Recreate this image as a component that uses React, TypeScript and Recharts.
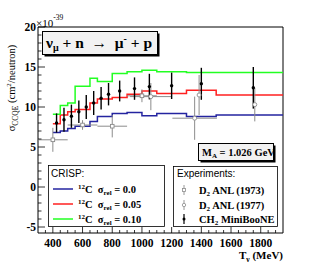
import React from 'react';
import { ComposedChart, Line, Scatter, XAxis, YAxis, ErrorBar, ReferenceArea } from 'recharts';

// CRISP step curves (bin lower edges, last entry = right end)
const binEdges = [400, 450, 500, 550, 650, 700, 800, 900, 1000, 1100, 1300, 1500, 1950];
const crispSigma00 = [6.8, 7.0, 7.3, 7.6, 8.2, 8.8, 9.2, 9.3, 8.9, 9.2, 8.8, 9.0];
const crispSigma05 = [7.9, 9.0, 9.4, 9.7, 10.5, 11.0, 11.2, 11.6, 12.0, 11.7, 12.1, 11.5];
const crispSigma10 = [9.1, 10.2, 10.5, 12.6, 13.6, 13.2, 14.2, 14.4, 14.6, 14.4, 14.3, 14.3];

// MiniBooNE CH2
const minibooneT = [425, 475, 525, 575, 625, 675, 725, 775, 850, 950, 1050, 1200, 1400, 1750];
const minibooneV = [8.0, 8.4, 8.85, 9.4, 10.0, 10.5, 11.1, 11.6, 12.0, 12.3, 12.55, 12.65, 12.9, 12.4];
const minibooneErr = [1.2, 1.5, 1.45, 1.4, 1.5, 1.5, 1.4, 1.4, 1.3, 1.4, 1.6, 1.65, 2.0, 2.6];

// D2 ANL (1973)
const anl73T = [400, 600, 800, 1000];
const anl73V = [5.9, 7.75, 7.6, 11.4];
const anl73Ex = [100, 100, 100, 100];
const anl73Ey = [1.5, 0.6, 1.4, 0.8];

// D2 ANL (1977)
const anl77T = [1060, 1355, 1385, 1760];
const anl77V = [11.3, 8.6, 11.5, 10.3];
const anl77Ex = [140, 150, 0, 0];
const anl77Ey = [1.7, 2.7, 2.5, 2.1];

const xMajorTicks = [400, 600, 800, 1000, 1200, 1400, 1600, 1800];
const xAllTicks = [350, 400, 450, 500, 550, 600, 650, 700, 750, 800, 850, 900, 950, 1000, 1050, 1100, 1150, 1200, 1250, 1300, 1350, 1400, 1450, 1500, 1550, 1600, 1650, 1700, 1750, 1800, 1850, 1900];
const yMajorTicks = [-5, 0, 5, 10, 15, 20];
const yAllTicks = [-5, -4, -3, -2, -1, 0, 1, 2, 3, 4, 5, 6, 7, 8, 9, 10, 11, 12, 13, 14, 15, 16, 17, 18, 19, 20];

const stepData = (vals: number[]) => binEdges.map((t, i) => ({ t, v: vals[Math.min(i, vals.length - 1)] }));
const pointData = (ts: number[], vs: number[], ex: number[], ey: number[]) =>
  ts.map((t, i) => ({ t, v: vs[i], ex: ex[i], ey: ey[i] }));

const blueData = stepData(crispSigma00);
const redData = stepData(crispSigma05);
const greenData = stepData(crispSigma10);
const mbData = pointData(minibooneT, minibooneV, minibooneT.map(() => 0), minibooneErr);
const anl73Data = pointData(anl73T, anl73V, anl73Ex, anl73Ey);
const anl77Data = pointData(anl77T, anl77V, anl77Ex, anl77Ey);

const SERIF = '"Liberation Serif", "Times New Roman", serif';
const SANS = '"Liberation Sans", Arial, sans-serif';
const BLUE = '#2424a0';
const RED = '#ff2020';
const GREEN = '#22ff22';
const GRAY = '#8c8c8c';

const XTick = (props: any) => {
  const { x, y, payload } = props;
  const major = xMajorTicks.includes(payload.value);
  return (
    <g>
      <line x1={x} y1={y} x2={x} y2={y - (major ? 6 : 3)} stroke="#000" strokeWidth={0.8} />
      {major && (
        <text x={x} y={y + 13.5} textAnchor="middle" fontFamily={SERIF} fontWeight="bold" fontSize={11.5} fill="#000">
          {payload.value}
        </text>
      )}
    </g>
  );
};

const YTick = (props: any) => {
  const { x, y, payload } = props;
  const major = yMajorTicks.includes(payload.value);
  return (
    <g>
      <line x1={x} y1={y} x2={x + (major ? 7 : 3.5)} y2={y} stroke="#000" strokeWidth={0.8} />
      {major && (
        <text x={x - 2} y={y + 4} textAnchor="end" fontFamily={SERIF} fontWeight="bold" fontSize={11.5} fill="#000">
          {payload.value}
        </text>
      )}
    </g>
  );
};

const mbShape = (p: any) => <circle cx={p.cx} cy={p.cy} r={1.7} fill="#000" />;
const anl73Shape = (p: any) => <rect x={p.cx - 1.8} y={p.cy - 1.8} width={3.6} height={3.6} fill="#fff" stroke={GRAY} strokeWidth={0.9} />;
const anl77Shape = (p: any) => <circle cx={p.cx} cy={p.cy} r={2} fill="#fff" stroke={GRAY} strokeWidth={0.9} />;

const Overlay = () => (
  <svg width={315} height={276} style={{ position: 'absolute', left: 0, top: 0, pointerEvents: 'none' }}>
    {/* exponent */}
    <text x={36} y={27} fontFamily={SERIF} fontSize={11} fill="#000">
      ×10<tspan fontSize={7.5} dy={-7}>-39</tspan>
    </text>
    {/* y title */}
    <text transform="translate(15,88) rotate(-90)" textAnchor="middle" fontFamily={SERIF} fontSize={10.5} fill="#000">
      σ<tspan fontSize={7.5} dy={3}>CCQE</tspan>
      <tspan dy={-3}> (cm</tspan>
      <tspan fontSize={7} dy={-4}>2</tspan>
      <tspan dy={4}>/neutron)</tspan>
    </text>
    {/* x title */}
    <text x={283} y={259} textAnchor="end" fontFamily={SERIF} fontWeight="bold" fontSize={11} fill="#000">
      T<tspan fontSize={7.5} dy={3}>ν</tspan>
      <tspan dy={-3}> (MeV)</tspan>
    </text>
    {/* title box */}
    <rect x={44.5} y={33.5} width={115} height={23} fill="#000" />
    <rect x={42.5} y={31.5} width={115} height={23} fill="#f2f2f2" stroke="#000" strokeWidth={1} />
    <text x={46} y={48} fontFamily={SERIF} fontWeight="bold" fontSize={15.5} fill="#000" xmlSpace="preserve" style={{ whiteSpace: 'pre' }}>
      ν<tspan fontSize={10} dy={3}>μ</tspan>
      <tspan dy={-3}>{' + n  →  μ'}</tspan>
      <tspan fontSize={10} dy={-6}>-</tspan>
      <tspan dy={6}>{' + p'}</tspan>
    </text>
    {/* MA box */}
    <rect x={200.5} y={145.5} width={75} height={17} fill="#000" />
    <rect x={198.5} y={143.5} width={75} height={17} fill="#f2f2f2" stroke="#000" strokeWidth={1} />
    <text x={202} y={156} fontFamily={SERIF} fontWeight="bold" fontSize={10.5} fill="#000">
      M<tspan fontSize={7} dy={2}>A</tspan>
      <tspan dy={-2}> = 1.026 GeV</tspan>
    </text>
    {/* CRISP legend */}
    <rect x={48.5} y={165.5} width={116} height={61} fill="#fff" stroke="#000" strokeWidth={0.8} />
    <text x={51} y={177} fontFamily={SANS} fontSize={10} fill="#000">CRISP:</text>
    {[
      { c: BLUE, y: 189, s: '0.0' },
      { c: RED, y: 204, s: '0.05' },
      { c: GREEN, y: 219, s: '0.10' },
    ].map((e) => (
      <g key={e.s}>
        <line x1={53} x2={73} y1={e.y} y2={e.y} stroke={e.c} strokeWidth={1.5} />
        <text x={78} y={e.y + 4} fontFamily={SERIF} fontWeight="bold" fontSize={10.5} fill="#000" xmlSpace="preserve" style={{ whiteSpace: 'pre' }}>
          <tspan fontSize={7} dy={-4}>12</tspan>
          <tspan dy={4}>{'C  σ'}</tspan>
          <tspan fontSize={7} dy={2}>rel</tspan>
          <tspan dy={-2}>{' = ' + e.s}</tspan>
        </text>
      </g>
    ))}
    {/* Experiments legend */}
    <rect x={173.5} y={166.5} width={104} height={60} fill="#fff" stroke="#000" strokeWidth={0.8} />
    <text x={177} y={177} fontFamily={SANS} fontSize={10} fill="#000">Experiments:</text>
    <line x1={184} x2={184} y1={185} y2={195} stroke={GRAY} strokeWidth={0.9} />
    <rect x={182.5} y={188.5} width={3} height={3} fill="#fff" stroke={GRAY} strokeWidth={0.8} />
    <line x1={184} x2={184} y1={200} y2={210} stroke={GRAY} strokeWidth={0.9} />
    <circle cx={184} cy={205} r={1.7} fill="#fff" stroke={GRAY} strokeWidth={0.8} />
    <line x1={184} x2={184} y1={214} y2={224} stroke="#000" strokeWidth={1.2} />
    <circle cx={184} cy={219} r={1.5} fill="#000" />
    {[
      { y: 194, a: 'D', b: '2', c: ' ANL (1973)' },
      { y: 209, a: 'D', b: '2', c: ' ANL (1977)' },
      { y: 223, a: 'CH', b: '2', c: ' MiniBooNE' },
    ].map((e) => (
      <text key={e.c} x={199} y={e.y} fontFamily={SERIF} fontWeight="bold" fontSize={10.5} fill="#000">
        {e.a}
        <tspan fontSize={7} dy={2}>{e.b}</tspan>
        <tspan dy={-2}>{e.c}</tspan>
      </text>
    ))}
  </svg>
);

export default function App() {
  return (
    <div style={{ position: 'absolute', left: 0, top: 0, width: 315, height: 276, background: '#fff' }}>
      <ComposedChart width={315} height={276} margin={{ top: 27, right: 32, bottom: 23, left: 8 }}>
        <XAxis
          type="number"
          dataKey="t"
          domain={[300, 1950]}
          allowDataOverflow
          ticks={xAllTicks}
          interval={0}
          tick={<XTick />}
          tickSize={0}
          tickMargin={0}
          tickLine={false}
          axisLine={false}
          height={20}
        />
        <YAxis
          type="number"
          dataKey="v"
          domain={[-5.75, 20]}
          allowDataOverflow
          ticks={yAllTicks}
          interval={0}
          tick={<YTick />}
          tickSize={0}
          tickMargin={0}
          tickLine={false}
          axisLine={false}
          width={30}
        />
        <Line data={blueData} dataKey="v" type="stepAfter" stroke={BLUE} strokeWidth={1.5} dot={false} isAnimationActive={false} />
        <Line data={redData} dataKey="v" type="stepAfter" stroke={RED} strokeWidth={1.5} dot={false} isAnimationActive={false} />
        <Line data={greenData} dataKey="v" type="stepAfter" stroke={GREEN} strokeWidth={1.5} dot={false} isAnimationActive={false} />
        <Scatter data={anl73Data} dataKey="v" shape={anl73Shape} isAnimationActive={false}>
          <ErrorBar dataKey="ey" direction="y" width={0} stroke={GRAY} strokeWidth={1} />
          <ErrorBar dataKey="ex" direction="x" width={0} stroke={GRAY} strokeWidth={1} />
        </Scatter>
        <Scatter data={anl77Data} dataKey="v" shape={anl77Shape} isAnimationActive={false}>
          <ErrorBar dataKey="ey" direction="y" width={0} stroke={GRAY} strokeWidth={1} />
          <ErrorBar dataKey="ex" direction="x" width={0} stroke={GRAY} strokeWidth={1} />
        </Scatter>
        <Scatter data={mbData} dataKey="v" shape={mbShape} isAnimationActive={false}>
          <ErrorBar dataKey="ey" direction="y" width={0} stroke="#000" strokeWidth={1.4} />
        </Scatter>
        <ReferenceArea x1={300} x2={1950} y1={-5.75} y2={20} fill="none" stroke="#000" strokeWidth={1} ifOverflow="visible" />
      </ComposedChart>
      <Overlay />
    </div>
  );
}
